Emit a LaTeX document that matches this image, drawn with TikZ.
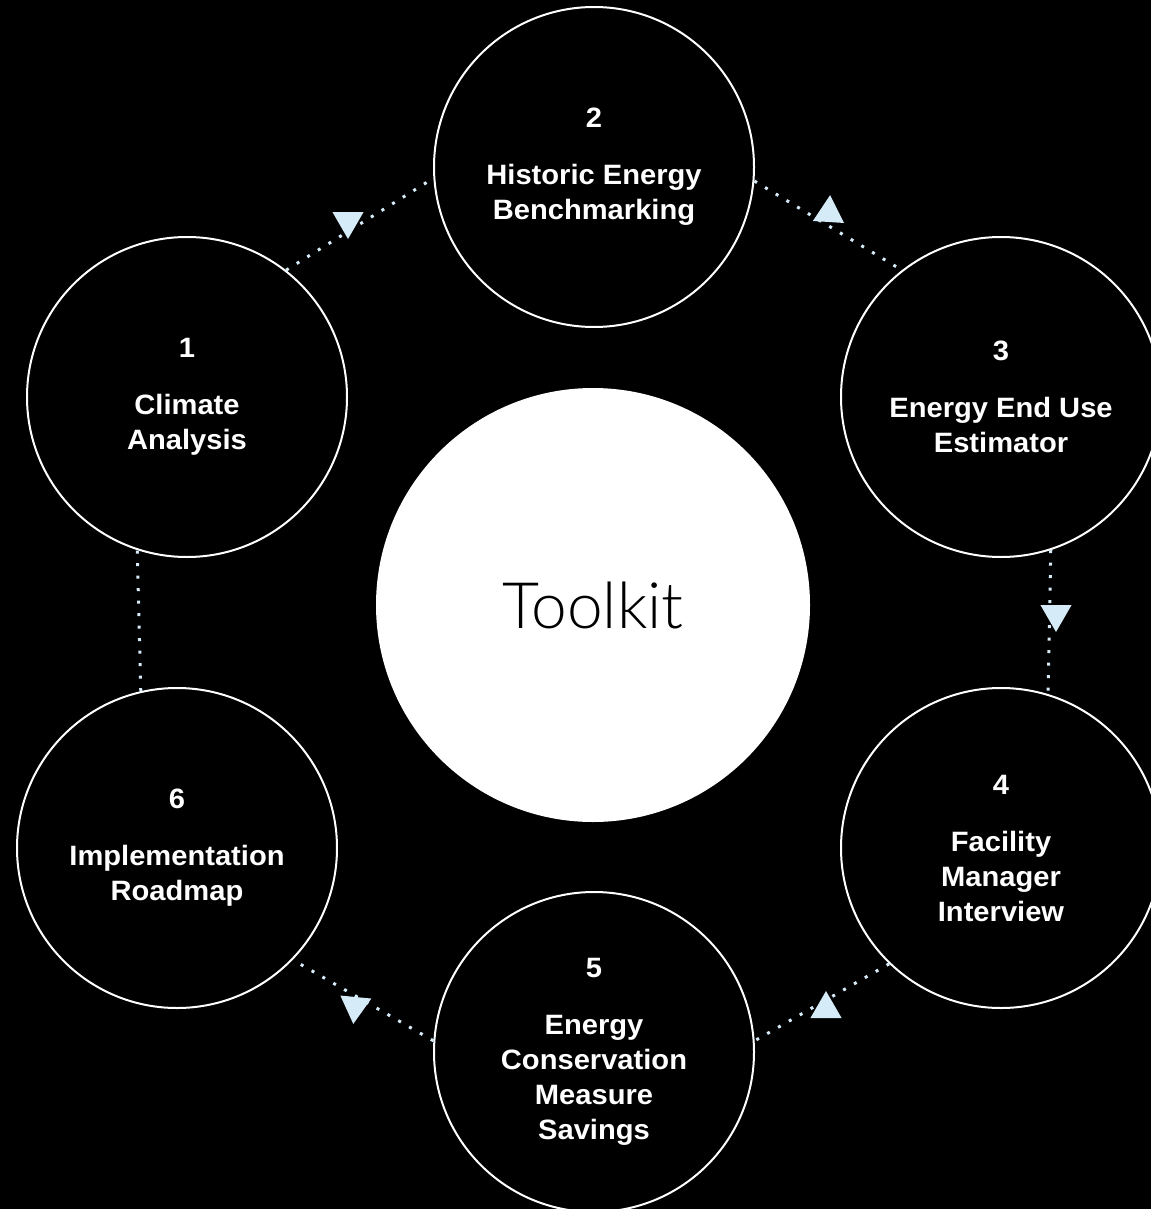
\documentclass[tikz,border=0pt]{standalone}
\usepackage{fontspec}
\setmainfont{Liberation Sans}[FakeStretch=1.04]
\newfontfamily\tkfont{Lato Light}
\usetikzlibrary{shapes.geometric}
\definecolor{dotblue}{HTML}{D6EBF8}
\begin{document}
\begin{tikzpicture}[x=1pt,y=-1pt,
  stage/.style={circle, draw=white, line width=2pt, minimum size=320pt, inner sep=0pt,
    text=white, align=center, font=\fontsize{28}{35}\selectfont\bfseries},
  hub/.style={circle, fill=white, minimum size=434pt, inner sep=0pt, text=black,
    font=\tkfont\fontsize{64}{70}\selectfont},
  flow/.style={draw=dotblue, line width=3pt, dash pattern=on 3pt off 9.5pt},
  tip/.style={regular polygon, regular polygon sides=3, fill=dotblue,
    minimum size=36pt, inner sep=0pt, outer sep=0pt}
]
% page and background
\fill[black] (0,0) rectangle (1151,1209);
\clip (0,0) rectangle (1151,1209);

% central hub
\node[hub] (hub) at (593,605) {Toolkit};

% the six stages
\node[stage] (c1) at (187,397)  {1\\[22pt]Climate\\Analysis};
\node[stage] (c2) at (594,167)  {2\\[22pt]Historic Energy\\Benchmarking};
\node[stage] (c3) at (1001,397) {3\\[22pt]Energy End Use\\Estimator};
\node[stage] (c4) at (1001,848) {4\\[22pt]Facility\\Manager\\Interview};
\node[stage] (c5) at (594,1052) {5\\[22pt]Energy\\Conservation\\Measure\\Savings};
\node[stage] (c6) at (177,848)  {6\\[22pt]Implementation\\Roadmap};

% dotted links around the cycle
\draw[flow] (c1.52)  -- (c2.184);
\draw[flow] (c2.355) -- (c3.128);
\draw[flow] (c3.288) -- (c4.73);
\draw[flow] (c4.226) -- (c5.4);
\draw[flow] (c5.176) -- (c6.316);
\draw[flow] (c6.103) -- (c1.252);

% triangle markers on the links
\node[tip, shape border rotate=180]   (t12) at (348,221)  {};
\node[tip, shape border rotate=-3.6]  (t23) at (829,213)  {};
\node[tip, shape border rotate=180]   (t34) at (1056,614) {};
\node[tip]                            (t45) at (826,1009) {};
\node[tip, shape border rotate=174.5] (t56) at (355,1006) {};
\end{tikzpicture}
\end{document}
